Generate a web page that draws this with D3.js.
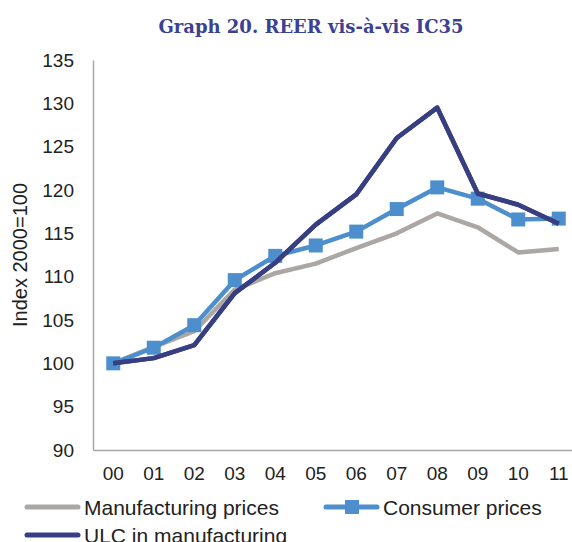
<!DOCTYPE html>
<html>
<head>
<meta charset="utf-8">
<script src="https://cdn.jsdelivr.net/npm/d3@7"></script>
<style>
  body { margin: 0; background: #fff; }
  svg text { font-family: "Liberation Sans", Arial, sans-serif; fill: #222; }
</style>
</head>
<body>
<div id="chart"></div>
<script>
var years = ['00', '01', '02', '03', '04', '05', '06', '07', '08', '09', '10', '11'];

var manufacturing = [100, 101.9, 103.7, 108.5, 110.4, 111.5, 113.3, 115.0, 117.3, 115.7, 112.8, 113.2];
var consumer = [100, 101.8, 104.4, 109.6, 112.4, 113.6, 115.2, 117.8, 120.3, 119.0, 116.6, 116.7];
var ulc = [100, 100.6, 102.1, 108.1, 111.6, 116.0, 119.5, 126.0, 129.5, 119.6, 118.3, 116.1];

var y_ticks = [90, 95, 100, 105, 110, 115, 120, 125, 130, 135];

var width = 572;
var height = 542;
var padding = {top: 60, bottom: 92, left: 93, right: -7};

var svg = d3.select('#chart').append('svg')
    .attr('width', width)
    .attr('height', height);

svg.append('text')
    .attr('x', 311)
    .attr('y', 33)
    .attr('text-anchor', 'middle')
    .style('font-family', '"DejaVu Serif", serif')
    .style('font-weight', 'bold')
    .style('font-size', '18px')
    .style('fill', '#3b4194')
    .text('Graph 20. REER vis-à-vis IC35');

var x_scale = d3.scaleBand()
    .range([padding.left, width - padding.right])
    .domain(years);

var y_scale = d3.scaleLinear()
    .range([height - padding.bottom, padding.top])
    .domain([90, 135]);

// axes
var y_axis = d3.axisLeft(y_scale).tickValues(y_ticks).tickSize(0).tickPadding(19);
var x_axis = d3.axisBottom(x_scale).tickSize(0).tickPadding(17);

var gy = svg.append('g')
    .attr('transform', 'translate(' + padding.left + ',0)')
    .call(y_axis);
gy.select('.domain').attr('stroke', '#a6a8ab').attr('stroke-width', 1.5);
gy.selectAll('text').style('font-size', '19px').style('font-family', '"Liberation Sans", Arial, sans-serif').style('fill', '#222');

var gx = svg.append('g')
    .attr('transform', 'translate(0,' + (height - padding.bottom) + ')')
    .call(x_axis);
gx.select('.domain').attr('stroke', '#a6a8ab').attr('stroke-width', 1.5);
gx.selectAll('text').style('font-size', '19px').style('font-family', '"Liberation Sans", Arial, sans-serif').style('fill', '#222');

svg.append('text')
    .attr('transform', 'translate(27,' + ((padding.top + height - padding.bottom) / 2) + ') rotate(-90)')
    .attr('text-anchor', 'middle')
    .style('font-size', '20px')
    .text('Index 2000=100');

var series = [
    {name: 'Manufacturing prices', values: manufacturing, colour: '#aca7a4', marker: false},
    {name: 'Consumer prices', values: consumer, colour: '#4d8fcd', marker: true},
    {name: 'ULC in manufacturing', values: ulc, colour: '#373f82', marker: false}
];

var line = d3.line()
    .x(function(d, i){ return x_scale(years[i]) + x_scale.bandwidth() / 2; })
    .y(function(d){ return y_scale(d); });

series.forEach(function(s) {
    svg.append('path')
        .datum(s.values)
        .attr('fill', 'none')
        .attr('stroke', s.colour)
        .attr('stroke-width', 4.5)
        .attr('stroke-linejoin', 'round')
        .attr('d', line);
    if (s.marker) {
        svg.selectAll('rect.m')
            .data(s.values)
            .enter().append('rect')
            .attr('x', function(d, i){ return x_scale(years[i]) + x_scale.bandwidth() / 2 - 7; })
            .attr('y', function(d){ return y_scale(d) - 7; })
            .attr('width', 14)
            .attr('height', 14)
            .attr('fill', s.colour);
    }
});

// ULC drawn on top of consumer markers
svg.append('path')
    .datum(ulc)
    .attr('fill', 'none')
    .attr('stroke', '#373f82')
    .attr('stroke-width', 4.5)
    .attr('stroke-linejoin', 'round')
    .attr('d', line);

// legend
var legend_pos = [
    {x: 27, y: 507},
    {x: 326, y: 507},
    {x: 27, y: 535}
];

series.forEach(function(s, i) {
    var p = legend_pos[i];
    var g = svg.append('g').attr('transform', 'translate(' + p.x + ',' + p.y + ')');
    g.append('line')
        .attr('x1', 0).attr('x2', 51)
        .attr('stroke', s.colour)
        .attr('stroke-width', 5)
        .attr('stroke-linecap', 'round');
    if (s.marker) {
        g.append('rect')
            .attr('x', 19).attr('y', -7)
            .attr('width', 14).attr('height', 14)
            .attr('fill', s.colour);
    }
    g.append('text')
        .attr('x', 57)
        .attr('y', 7.5)
        .style('font-size', '21px')
        .text(s.name);
});
</script>
</body>
</html>
